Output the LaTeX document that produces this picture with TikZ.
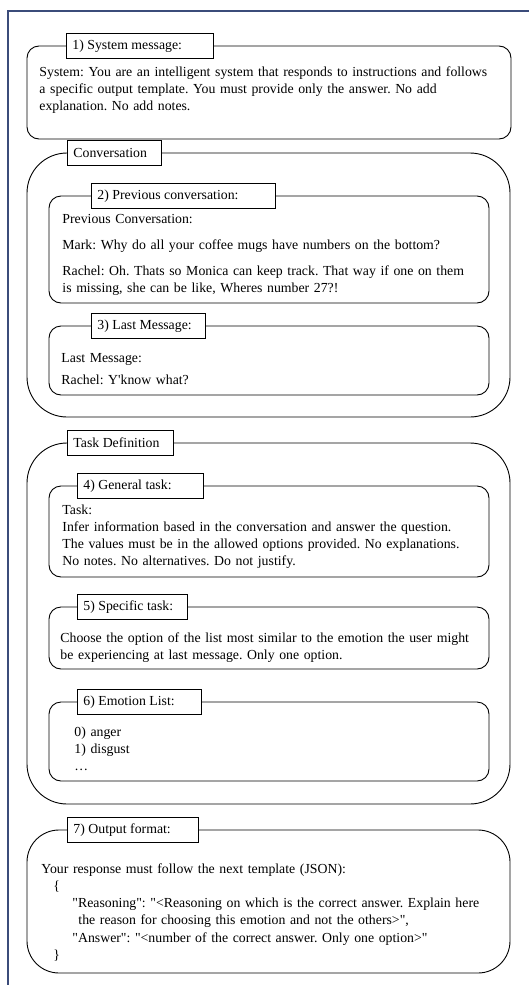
\documentclass[tikz,border=0pt]{standalone}
\usepackage{fontspec}
\setmainfont{Liberation Serif}
\definecolor{framecol}{RGB}{59,76,122}
\newcommand\qq{\textquotedbl}
\begin{document}
\frenchspacing
\begin{tikzpicture}[x=1pt,y=-1pt,line width=0.9pt,font=\fontsize{13.8}{17.3}\selectfont]
  \tikzstyle{boxtitle}=[draw=black,fill=white,anchor=west,inner xsep=6pt,inner ysep=0pt,minimum height=25pt,execute at end node=\hspace*{8pt}]
  \tikzstyle{boxtext}=[anchor=base west,inner sep=0pt,text width=500pt,align=left]
  \tikzstyle{small box}=[draw=black,rounded corners=12pt]
  \tikzstyle{big box}=[draw=black,rounded corners=40pt]

  \useasboundingbox (0,0) rectangle (529,985);
  \draw[framecol,line width=2pt] (8,985) -- (8,11) -- (529,11);

  \draw[small box] (27,46) rectangle (511,139);
  \node[boxtitle,execute at end node=\hspace*{17pt}] (sysTitle) at (66,46) {1) System message:};
  \node[boxtext] (sysText) at (39,76) {System: You are an intelligent system that responds to instructions and follows\\
    a specific output template. You must provide only the answer. No add\\
    explanation. No add notes.};

  \draw[big box] (27,153) rectangle (510,417);
  \node[boxtitle] (convTitle) at (67,153) {Conversation};

  \draw[small box] (49,196) rectangle (489,303);
  \node[boxtitle,execute at end node=\hspace*{23pt}] (prevTitle) at (91,196) {2) Previous conversation:};
  \node[boxtext] (prevText) at (62,223) {Previous Conversation:\\[9pt]
    Mark: Why do all your coffee mugs have numbers on the bottom?\\[9pt]
    Rachel: Oh. Thats so Monica can keep track. That way if one on them\\
    is missing, she can be like, Wheres number 27?!};

  \draw[small box] (49,326) rectangle (489,395);
  \node[boxtitle] (lastTitle) at (91,326) {3) Last Message:};
  \node[boxtext] (lastText) at (61,362) {Last Message:\\[4.7pt]
    Rachel: Y\textquotesingle know what?};

  \draw[big box] (27,443) rectangle (510,804);
  \node[boxtitle] (taskTitle) at (67,443) {Task Definition};

  \draw[small box] (49,486) rectangle (489,577);
  \node[boxtitle,execute at end node=\hspace*{18pt}] (genTitle) at (77,486) {4) General task:};
  \node[boxtext] (genText) at (62,514) {Task:\\
    Infer information based in the conversation and answer the question.\\
    The values must be in the allowed options provided. No explanations.\\
    No notes. No alternatives. Do not justify.};

  \draw[small box] (49,607) rectangle (489,669);
  \node[boxtitle] (specTitle) at (77,607) {5) Specific task:};
  \node[boxtext] (specText) at (60,642) {Choose the option of the list most similar to the emotion the user might\\
    be experiencing at last message. Only one option.};

  \draw[small box] (49,702) rectangle (489,781);
  \node[boxtitle,execute at end node=\hspace*{13pt}] (emoTitle) at (77,702) {6) Emotion List:};
  \node[boxtext] (emoText) at (74,736) {0) anger\\
    1) disgust\\
    \dots};

  \draw[draw=black,rounded corners=32pt] (27,830) rectangle (510,973);
  \node[boxtitle,execute at end node=\hspace*{14pt}] (outTitle) at (67,830) {7) Output format:};
  \node[boxtext] (outText) at (41,873) {Your response must follow the next template (JSON):\\
    \hspace*{12pt}\{\\
    \hspace*{31pt}\qq Reasoning\qq: \qq<Reasoning on which is the correct answer. Explain here\\
    \hspace*{37pt}the reason for choosing this emotion and not the others>\qq,\\
    \hspace*{31pt}\qq Answer\qq: \qq<number of the correct answer. Only one option>\qq\\
    \hspace*{12pt}\}};
\end{tikzpicture}
\end{document}
